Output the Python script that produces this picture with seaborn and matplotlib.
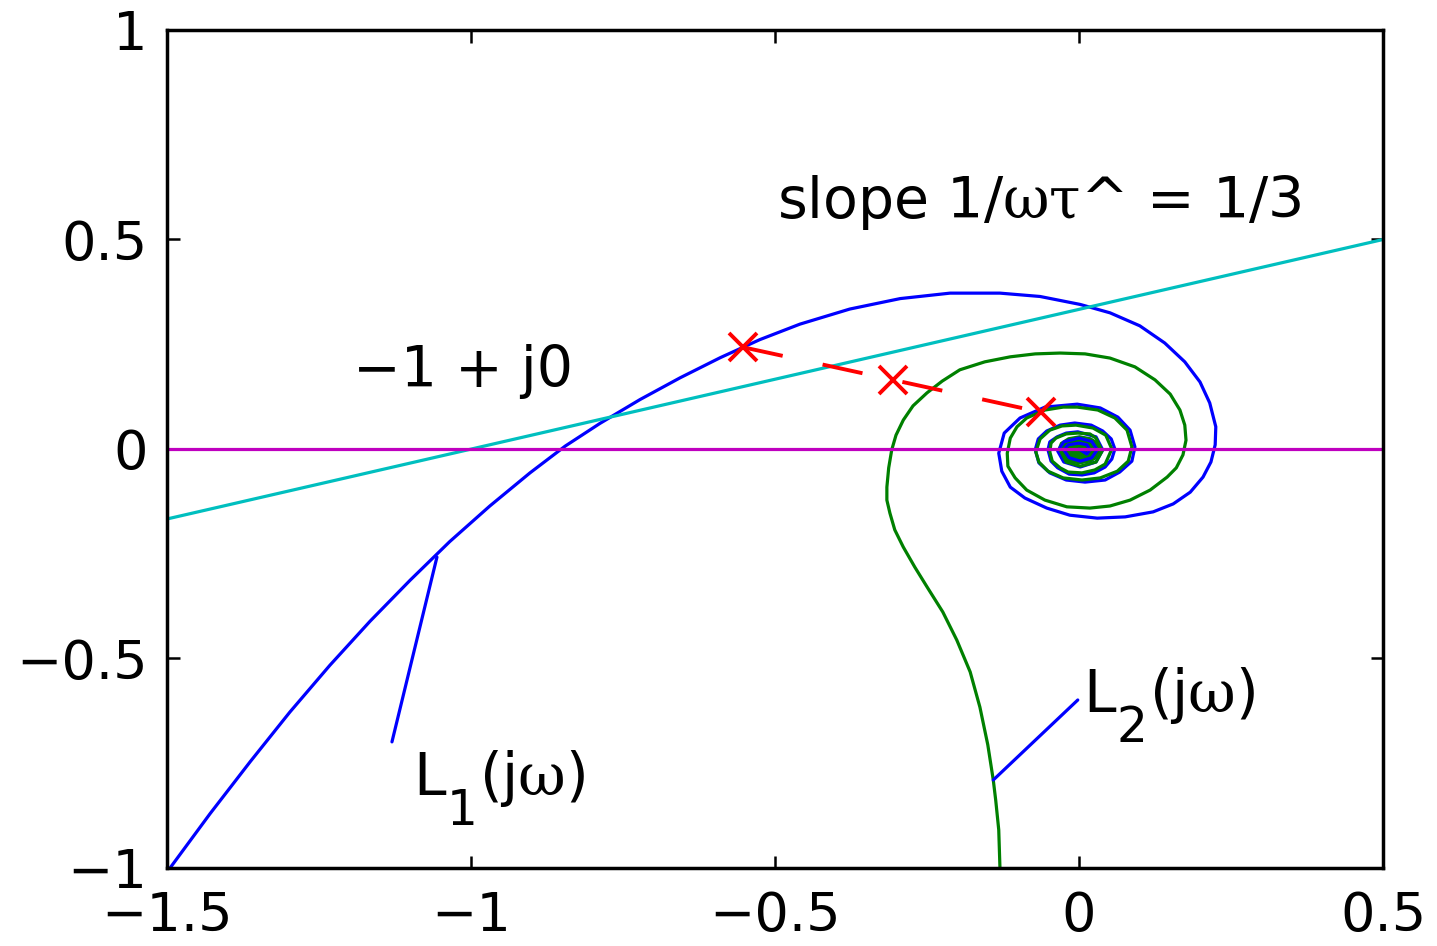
import matplotlib
matplotlib.use("Agg")
import matplotlib.pyplot as plt
import seaborn as sns

# ---------------- data ----------------
L1_re = [-1.495, -1.429, -1.363, -1.298, -1.232, -1.166, -1.100, -1.035, -0.969, -0.903,
         -0.845, -0.788, -0.722, -0.656, -0.590, -0.525, -0.459, -0.377, -0.294, -0.212,
         -0.130, -0.064, 0.002, 0.051, 0.100, 0.141, 0.174, 0.199, 0.215, 0.225,
         0.224, 0.217, 0.204, 0.183, 0.155, 0.122, 0.076, 0.030, -0.015, -0.053,
         -0.089, -0.113, -0.127, -0.132, -0.123, -0.097, -0.056, -0.003, 0.035, 0.064,
         0.084, 0.092, 0.087, 0.067, 0.043, 0.010, -0.021, -0.048, -0.066, -0.072,
         -0.067, -0.053, -0.031, -0.007, 0.020, 0.039, 0.053, 0.059, 0.054, 0.043,
         0.025, 0.005, -0.016, -0.035, -0.046, -0.051, -0.048, -0.036, -0.021, -0.002,
         0.028, 0.039, 0.028, 0.002, -0.025, -0.035, -0.025, 0.000, 0.021, 0.030,
         0.021, 0.002, -0.016, -0.025, -0.018, 0.000, 0.013, 0.018, 0.013, 0.000]
L1_im = [-1.000, -0.870, -0.746, -0.628, -0.516, -0.411, -0.313, -0.221, -0.136, -0.057,
         0.007, 0.061, 0.118, 0.170, 0.218, 0.261, 0.298, 0.334, 0.359, 0.372,
         0.372, 0.364, 0.345, 0.325, 0.294, 0.253, 0.208, 0.160, 0.110, 0.053,
         0.010, -0.031, -0.067, -0.103, -0.131, -0.150, -0.162, -0.165, -0.158, -0.141,
         -0.117, -0.091, -0.053, -0.010, 0.038, 0.074, 0.100, 0.107, 0.098, 0.076,
         0.045, 0.005, -0.029, -0.055, -0.074, -0.079, -0.074, -0.057, -0.033, -0.002,
         0.024, 0.043, 0.057, 0.062, 0.057, 0.043, 0.024, 0.000, -0.024, -0.043,
         -0.057, -0.062, -0.060, -0.045, -0.029, -0.002, 0.017, 0.029, 0.038, 0.041,
         0.029, -0.002, -0.031, -0.043, -0.031, -0.005, 0.017, 0.026, 0.018, -0.002,
         -0.021, -0.029, -0.021, -0.002, 0.010, 0.014, 0.010, -0.002, -0.012, 0.000]

L2_re = [-0.130, -0.132, -0.137, -0.141, -0.150, -0.163, -0.179, -0.201, -0.224, -0.250,
         -0.270, -0.289, -0.303, -0.311, -0.316, -0.316, -0.313, -0.308, -0.301, -0.289,
         -0.273, -0.250, -0.225, -0.196, -0.155, -0.113, -0.072, -0.031, 0.010, 0.051,
         0.092, 0.125, 0.150, 0.166, 0.174, 0.176, 0.171, 0.160, 0.145, 0.117,
         0.084, 0.051, 0.018, -0.020, -0.056, -0.086, -0.105, -0.117, -0.118, -0.113,
         -0.102, -0.086, -0.056, -0.026, -0.003, 0.031, 0.059, 0.079, 0.087, 0.081,
         0.063, 0.035, 0.005, -0.026, -0.051, -0.066, -0.071, -0.064, -0.048, -0.028,
         -0.005, 0.023, 0.044, 0.054, 0.043, 0.026, 0.005, -0.018, -0.031, -0.044,
         -0.048, -0.046, -0.038, -0.021, -0.002, 0.018, 0.028, 0.038, 0.028, 0.002,
         -0.021, -0.030]
L2_im = [-1.000, -0.909, -0.838, -0.790, -0.706, -0.616, -0.532, -0.456, -0.389, -0.329,
         -0.282, -0.234, -0.193, -0.153, -0.122, -0.091, -0.045, -0.002, 0.033, 0.069,
         0.103, 0.134, 0.162, 0.189, 0.208, 0.220, 0.227, 0.229, 0.227, 0.217,
         0.196, 0.165, 0.131, 0.093, 0.057, 0.021, -0.014, -0.045, -0.067, -0.098,
         -0.122, -0.136, -0.141, -0.138, -0.122, -0.098, -0.069, -0.041, -0.010, 0.026,
         0.053, 0.074, 0.093, 0.100, 0.100, 0.093, 0.074, 0.045, 0.005, -0.029,
         -0.053, -0.069, -0.074, -0.069, -0.053, -0.031, -0.007, 0.024, 0.045, 0.055,
         0.057, 0.050, 0.033, 0.000, -0.036, -0.050, -0.057, -0.055, -0.045, -0.029,
         -0.007, 0.014, 0.026, 0.036, 0.038, 0.036, 0.026, -0.005, -0.031, -0.041,
         -0.031, -0.005]

# densely wound centre of L2 (appears as a solid green blob)
L2_core_re = [0.038, 0.033, 0.0195, 0.001, -0.018, -0.031, -0.036, -0.031, -0.018, 0.001, 0.020, 0.033]
L2_core_im = [-0.002, 0.016, 0.028, 0.033, 0.028, 0.016, -0.002, -0.020, -0.032, -0.037, -0.032, -0.020]

slope_re = [-1.5, 0.5]
slope_im = [-0.167, 0.5]
real_axis_re = [-1.5, 0.5]
real_axis_im = [0.0, 0.0]

cross_re = [-0.553, -0.306, -0.063]
cross_im = [0.243, 0.165, 0.088]

L1_tag_re = [-1.056, -1.130]
L1_tag_im = [-0.258, -0.699]
L2_tag_re = [-0.141, -0.002]
L2_tag_im = [-0.790, -0.599]

x_ticks = [-1.5, -1.0, -0.5, 0.0, 0.5]
x_tick_labels = ["\u22121.5", "\u22121", "\u22120.5", "0", "0.5"]
y_ticks = [-1.0, -0.5, 0.0, 0.5, 1.0]
y_tick_labels = ["\u22121", "\u22120.5", "0", "0.5", "1"]

# ---------------- style ----------------
sns.set_theme(style="white")
plt.rcParams["font.family"] = ["DejaVu Sans"]
plt.rcParams["text.color"] = "black"
plt.rcParams["xtick.color"] = "black"
plt.rcParams["ytick.color"] = "black"
plt.rcParams["mathtext.fontset"] = "custom"
plt.rcParams["mathtext.rm"] = "DejaVu Serif"
plt.rcParams["mathtext.sf"] = "DejaVu Sans"
plt.rcParams["mathtext.it"] = "DejaVu Serif:italic"

BLUE = "#0000ff"
GREEN = "#008000"
CYAN = "#00bfbf"
MAGENTA = "#bf00bf"
RED = "#ff0000"

fig = plt.figure(figsize=(14.37, 9.46), dpi=100)
ax = fig.add_axes([167 / 1437, 1 - 868 / 946, (1383 - 167) / 1437, (868 - 30) / 946])

def curve(re, im, color, lw, **kw):
    sns.lineplot(x=re, y=im, sort=False, estimator=None, color=color,
                 linewidth=lw, ax=ax, legend=False, **kw)

curve(L1_re, L1_im, BLUE, 2.3)
curve(L2_re, L2_im, GREEN, 2.3)
ax.fill(L2_core_re, L2_core_im, color=GREEN, lw=0)
curve(slope_re, slope_im, CYAN, 2.3)
curve(real_axis_re, real_axis_im, MAGENTA, 2.3)
ax.plot(cross_re, cross_im, color=RED, lw=2.8, linestyle=(0, (10.5, 10.5)),
        marker="x", markersize=20, markeredgewidth=2.8)
curve(L1_tag_re, L1_tag_im, BLUE, 2.3)
curve(L2_tag_re, L2_tag_im, BLUE, 2.3)

# axes
ax.set_xlim(-1.5, 0.5)
ax.set_ylim(-1.0, 1.0)
ax.set_xticks(x_ticks)
ax.set_xticklabels(x_tick_labels)
ax.set_yticks(y_ticks)
ax.set_yticklabels(y_tick_labels)
ax.set_xlabel("")
ax.set_ylabel("")
for s in ax.spines.values():
    s.set_visible(True)
    s.set_color("black")
    s.set_linewidth(2.5)
ax.tick_params(axis="both", direction="in", length=9, width=1.8, color="black",
               top=True, right=True, bottom=True, left=True, labelsize=39,
               labelcolor="black")
ax.tick_params(axis="x", pad=16)
ax.tick_params(axis="y", pad=14)
ax.grid(False)
ax.set_facecolor("white")
fig.patch.set_facecolor("white")

# annotations
ax.text(-0.497, 0.551, "slope 1/$\\mathrm{\\omega\\tau}$^ = 1/3", fontsize=41,
        ha="left", va="baseline")
ax.text(-1.194, 0.148, "\u22121 + j0", fontsize=41, ha="left", va="baseline")

renderer = fig.canvas.get_renderer()
inv = ax.transData.inverted()

def sub_label(x, y, base, sub, tail, size=42, sub_size=35, drop_px=30):
    t1 = ax.text(x, y, base, fontsize=size, ha="left", va="baseline")
    bb = t1.get_window_extent(renderer)
    x0, y0 = ax.transData.transform((x, y))
    sx, sy = inv.transform((bb.x1 + 1, y0 - drop_px))
    t2 = ax.text(sx, sy, sub, fontsize=sub_size, ha="left", va="baseline")
    bb2 = t2.get_window_extent(renderer)
    tx, ty = inv.transform((bb2.x1 + 1, y0))
    ax.text(tx, ty, tail, fontsize=size, ha="left", va="baseline")

sub_label(-1.095, -0.826, "L", "1", "(j$\\mathrm{\\omega}$)")
sub_label(0.007, -0.628, "L", "2", "(j$\\mathrm{\\omega}$)")

fig.savefig("out.png", dpi=100)
